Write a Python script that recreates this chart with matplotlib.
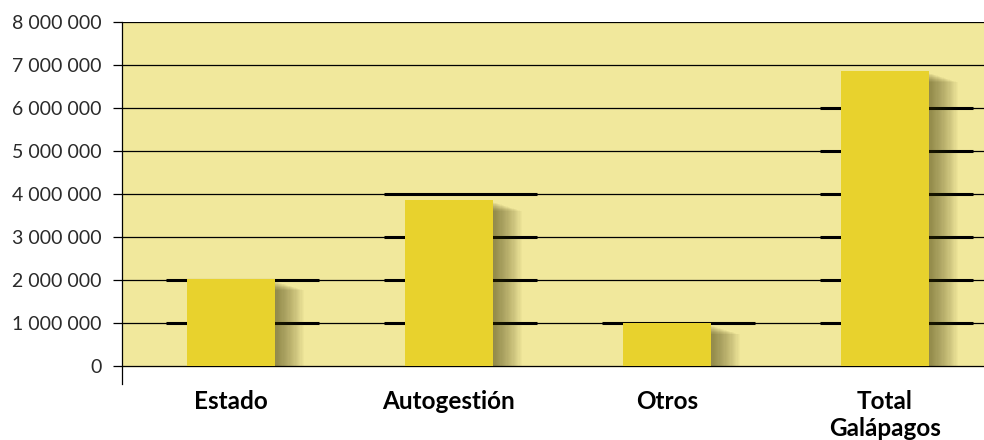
import numpy as np
import matplotlib.pyplot as plt
from matplotlib.ticker import FuncFormatter

categories = ['Estado', 'Autogestión', 'Otros', 'Total\nGalápagos']
values = [2020000, 3860000, 990000, 6860000]
y_ticks = [0, 1000000, 2000000, 3000000, 4000000, 5000000, 6000000, 7000000, 8000000]
# hasta qué línea llega el tramo grueso junto a cada barra
thick_top = [2000000, 4000000, 1000000, 6000000]

bg_color = '#F1E89C'
bar_color = '#E8D22D'

plt.rcParams['font.family'] = ['Lato', 'DejaVu Sans']

fig = plt.figure(figsize=(9.84, 4.4), dpi=100)
ax = fig.add_axes([122 / 984, 1 - 384 / 440, 1 - 122 / 984, (384 - 22) / 440])
ax.set_facecolor('white')

x = np.arange(len(categories))
width = 0.404

# fondo amarillo solo entre 0 y el máximo
ax.axhspan(0, y_ticks[-1], color=bg_color, zorder=0)

# líneas horizontales
for t in y_ticks:
    ax.axhline(t, color='black', linewidth=0.9, zorder=1)

# tramos más gruesos cerca de cada barra
for i, top in enumerate(thick_top):
    lv = [t for t in y_ticks[1:] if t <= top]
    ax.hlines(lv, x[i] - 0.30, x[i] + 0.405, color='black', linewidth=2.2, zorder=1.5)

# sombra difusa a la derecha
n_layers = 24
for k in range(n_layers):
    e = 0.006 + k * 0.0055
    ax.bar(x - width / 2, np.array(values) - 50000 - k * 9000, width + e, align='edge',
           color='#3f3808', alpha=0.028, zorder=2, linewidth=0)

ax.bar(x, values, width, color=bar_color, zorder=3, linewidth=0)

ax.set_xlim(-0.5, 3.454)
ax.set_ylim(-420000, 8000000)

ax.set_yticks(y_ticks)
ax.yaxis.set_major_formatter(FuncFormatter(lambda v, p: f'{int(v):,}'.replace(',', ' ')))
ax.tick_params(axis='y', length=6.5, width=0.9, pad=8, labelsize=14, labelcolor='#2a2a2a')

ax.set_xticks(x)
ax.set_xticklabels(categories, fontsize=17.5, fontweight='bold', linespacing=1.25)
ax.tick_params(axis='x', length=0, pad=4)

for s in ['top', 'right', 'bottom']:
    ax.spines[s].set_visible(False)
ax.spines['left'].set_linewidth(0.9)

plt.savefig('out.png', dpi=100)
